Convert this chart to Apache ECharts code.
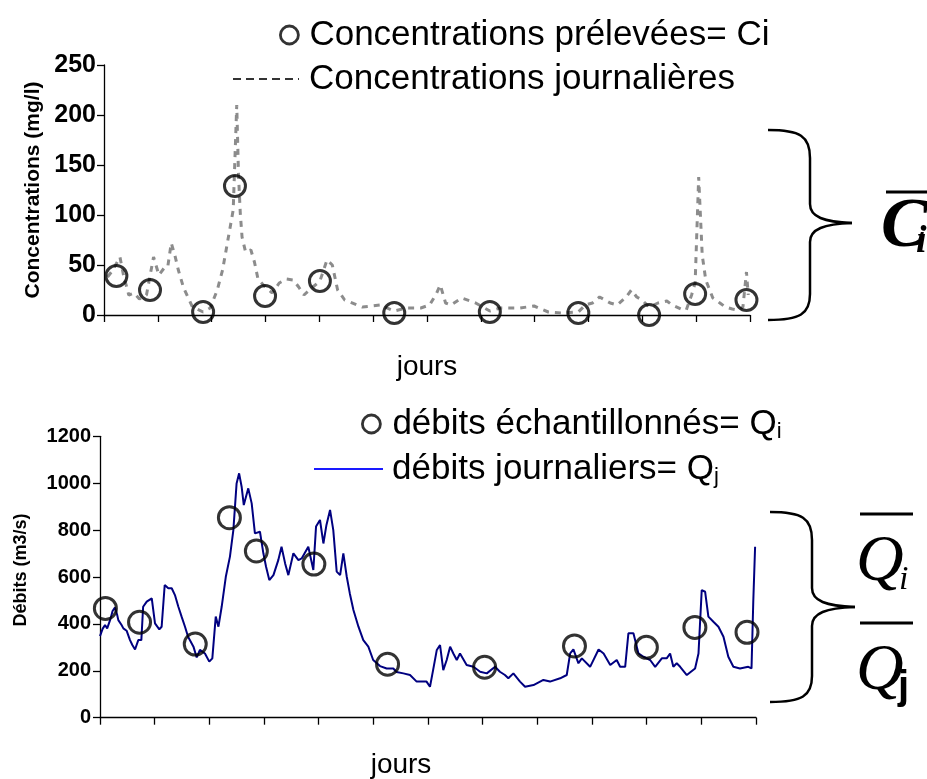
<!DOCTYPE html>
<html><head><meta charset="utf-8">
<script src="https://cdn.jsdelivr.net/npm/echarts@6/dist/echarts.min.js"></script>
<style>html,body{margin:0;padding:0;background:#fff}#c{width:927px;height:779px}</style>
</head><body><div id="c"></div>
<script>
// ---- Data (day of year, value) ----
const concDays   = [2,5,9,11,14,17,20,24,28,31,34,36,38,40,42,45,50,56,60,64,67,71,73,75,76,77,78,80,83,85,87,90,95,99,103,107,110,113,118,122,126,129,132,136,139,146,156,164,171,179,184,188,190,193,196,202,207,210,218,224,235,243,251,259,268,272,276,280,282,286,290,295,298,301,304,308,313,318,321,326,329,332,334,336,338,340,344,348,351,355,358,361,363,364];
const concValues = [38,45,58,40,20,22,16,20,58,40,47,48,72,60,45,27,8,3,7,25,45,85,105,210,140,102,78,63,65,53,36,30,22,32,36,35,28,20,28,34,55,50,25,15,13,8,10,4,7,7,10,22,30,12,10,17,14,12,4,7,7,9,3,2,3,10,12,18,16,12,10,18,25,18,15,8,12,14,10,6,5,20,32,138,60,35,17,12,8,6,5,8,43,20];
const concSampleDays   = [7,26,56,74,91,122,164,218,268,308,334,363];
const concSampleValues = [39,25,3,129,19,34,2,3,2,0,21,15];

const flowDays   = [0,1.5,2.8,4,5.6,7,8.3,9.5,10.2,12,13,14.8,16.7,18,19.5,21.3,23,24,26,28.8,30.6,33,34.3,36,38,39.9,41.7,43.6,45.4,47.3,49,52,53.8,55.6,58.4,60.8,62.5,64.4,65.9,67.7,70,72.3,74.2,76,77.4,78.8,80,82.5,84.4,86.2,89,90.9,92.4,94.2,96.5,99.2,101,103,104.8,107.6,110.4,112.2,115.9,118.7,120.2,122.4,124.3,126,128,129.8,131.7,133.6,135.4,137.3,139,141,143.8,146.5,149.3,152,155.8,159.5,163.2,165,168.8,172.5,176.2,181.7,183.6,185,187.4,189.2,191,192.9,194.8,196.6,198.5,200.3,204,207.8,211.5,215.2,219.8,222.5,225.3,227.2,230,233.7,236.5,241.2,246.7,250.4,256,259.7,261.6,263.4,266.2,268.1,272.7,277.4,280.2,283.9,287.5,289.4,292.2,294,296.8,299.6,302.4,306.1,308.9,312.6,315.3,317.2,319,320.9,322.8,326.5,331.1,333,334.8,336.7,338.5,341.3,344.1,346.9,349.6,352.4,356.1,360.7,362.5,363.5,364.5];
const flowValues = [348,380,395,381,416,455,470,440,416,395,381,371,331,310,291,331,331,473,495,509,402,377,388,566,552,552,523,473,431,388,345,303,257,289,274,239,253,431,388,473,601,687,800,999,1042,985,907,978,914,786,793,701,644,587,608,672,729,658,608,701,672,679,729,630,815,843,743,822,886,800,623,608,701,601,530,459,388,331,303,246,220,210,210,195,189,182,154,154,132,189,289,310,203,246,303,274,246,274,225,217,196,189,217,196,182,168,189,154,132,139,161,154,168,182,274,291,232,253,217,291,274,225,246,217,217,360,360,274,260,246,217,253,253,274,217,232,217,182,210,274,544,537,431,409,388,345,260,217,210,217,210,500,729];
const flowSampleDays   = [3,22,53,72,87,119,160,214,264,304,331,360];
const flowSampleValues = [466,407,314,853,711,655,228,215,306,300,385,364];

const concTicks = [0,50,100,150,200,250];
const flowTicks = [0,200,400,600,800,1000,1200];

const pairs = (xs, ys) => xs.map((d, i) => [d, ys[i]]);
const FONT = 'Liberation Sans';
const LEG_FS = 35, LEG_LH = 38;

const chart = echarts.init(document.getElementById('c'), null, {renderer: 'canvas'});

const xAxisBase = {
  type: 'value', min: 0, max: 365, interval: 365 / 12,
  axisLine: {show: true, onZero: false, lineStyle: {color: '#000', width: 1.3}},
  axisTick: {show: true, length: 7, lineStyle: {color: '#000', width: 1.3}},
  axisLabel: {show: false}, splitLine: {show: false},
  name: 'jours', nameLocation: 'middle',
  nameTextStyle: {fontFamily: FONT, fontSize: 28, color: '#000'}
};
const yAxisBase = {
  type: 'value',
  axisLine: {show: true, lineStyle: {color: '#000', width: 1.3}},
  axisTick: {show: true, length: 7, lineStyle: {color: '#000', width: 1.3}},
  splitLine: {show: false},
  nameLocation: 'middle', nameRotate: 90
};

const circleStyle = {color: 'rgba(0,0,0,0)', borderColor: '#000', borderWidth: 3};
const hiddenSymbol = {color: 'rgba(0,0,0,0)', borderColor: 'rgba(0,0,0,0)', borderWidth: 0};
const legendCircle = {color: 'rgba(0,0,0,0)', borderColor: '#000', borderWidth: 2.8};

// curly brace made of bezier curves and lines (decoration)
function brace(xl, xv, xt, yTop, yMid, yBot) {
  const st = {stroke: '#000', lineWidth: 2.5, fill: null};
  return [
    {type: 'bezierCurve', shape: {x1: xl, y1: yTop, cpx1: xl + 32, cpy1: yTop, cpx2: xv, cpy2: yTop + 6, x2: xv, y2: yTop + 28}, style: st},
    {type: 'line', shape: {x1: xv, y1: yTop + 28, x2: xv, y2: yMid - 19}, style: st},
    {type: 'bezierCurve', shape: {x1: xv, y1: yMid - 19, cpx1: xv, cpy1: yMid - 6, cpx2: xv + 14, cpy2: yMid - 1, x2: xt, y2: yMid}, style: st},
    {type: 'bezierCurve', shape: {x1: xt, y1: yMid, cpx1: xv + 14, cpy1: yMid + 1, cpx2: xv, cpy2: yMid + 6, x2: xv, y2: yMid + 19}, style: st},
    {type: 'line', shape: {x1: xv, y1: yMid + 19, x2: xv, y2: yBot - 26}, style: st},
    {type: 'bezierCurve', shape: {x1: xv, y1: yBot - 26, cpx1: xv, cpy1: yBot - 6, cpx2: xl + 32, cpy2: yBot, x2: xl, y2: yBot}, style: st}
  ];
}

const legText = (pad) => ({fontFamily: FONT, fontSize: LEG_FS, color: '#000', lineHeight: LEG_LH, padding: [0, 0, 0, pad],
  rich: {t: {fontFamily: FONT, fontSize: LEG_FS, lineHeight: LEG_LH, color: '#000'},
         s: {fontFamily: FONT, fontSize: 22, lineHeight: 12, verticalAlign: 'bottom', color: '#000'}}});

const option = {
  animation: false,
  backgroundColor: '#fff',
  grid: [
    {left: 104, top: 65, width: 646, height: 250, outerBoundsMode: 'none', containLabel: false},
    {left: 100, top: 436.3, width: 656, height: 281.4, outerBoundsMode: 'none', containLabel: false}
  ],
  xAxis: [
    Object.assign({}, xAxisBase, {gridIndex: 0, nameGap: 38}),
    Object.assign({}, xAxisBase, {gridIndex: 1, nameGap: 34,
      nameTextStyle: {fontFamily: FONT, fontSize: 28, color: '#000', padding: [0, 54, 0, 0]}})
  ],
  yAxis: [
    Object.assign({}, yAxisBase, {gridIndex: 0, min: concTicks[0], max: concTicks[concTicks.length-1], interval: 50,
      name: 'Concentrations (mg/l)', nameGap: 45,
      nameTextStyle: {fontFamily: FONT, fontSize: 21, fontWeight: 'bold', color: '#000'},
      axisLabel: {fontFamily: FONT, fontSize: 25, fontWeight: 'bold', color: '#000', margin: 8, formatter: v => String(v)}}),
    Object.assign({}, yAxisBase, {gridIndex: 1, min: flowTicks[0], max: flowTicks[flowTicks.length-1], interval: 200,
      name: 'Débits (m3/s)', nameGap: 70,
      nameTextStyle: {fontFamily: FONT, fontSize: 18, fontWeight: 'bold', color: '#000', padding: [0, 0, 0, 14]},
      axisLabel: {fontFamily: FONT, fontSize: 20, fontWeight: 'bold', color: '#000', margin: 9, formatter: v => String(v)}})
  ],
  legend: [
    {data: ['Concentrations prélevées= Ci'], left: 279, top: 16, padding: 0,
     itemWidth: 18, itemHeight: 18, itemStyle: legendCircle, textStyle: legText(6)},
    {data: ['Concentrations journalières'], left: 232, top: 60, padding: 0,
     itemWidth: 66, itemHeight: 14, itemStyle: hiddenSymbol, lineStyle: {color: '#333', width: 2, type: [8, 5]},
     textStyle: legText(5)},
    {data: ['débits échantillonnés= Qi'], left: 361, top: 405, padding: 0,
     itemWidth: 18, itemHeight: 18, itemStyle: legendCircle,
     formatter: () => '{t|débits échantillonnés= Q}{s|i}', textStyle: legText(7)},
    {data: ['débits journaliers= Qj'], left: 313, top: 450, padding: 0,
     itemWidth: 69, itemHeight: 14, itemStyle: hiddenSymbol, lineStyle: {color: '#1a1aff', width: 2},
     formatter: () => '{t|débits journaliers= Q}{s|j}', textStyle: legText(4)}
  ],
  series: [
    {name: 'Concentrations journalières', type: 'line', xAxisIndex: 0, yAxisIndex: 0,
     data: pairs(concDays, concValues), symbol: 'none', showSymbol: false,
     lineStyle: {color: '#8c8c8c', width: 3, type: [6, 6]}, itemStyle: {color: '#8c8c8c'}, z: 2},
    {name: 'Concentrations prélevées= Ci', type: 'scatter', xAxisIndex: 0, yAxisIndex: 0,
     data: pairs(concSampleDays, concSampleValues), symbol: 'circle', symbolSize: 21,
     itemStyle: circleStyle, z: 3},
    {name: 'débits journaliers= Qj', type: 'line', xAxisIndex: 1, yAxisIndex: 1,
     data: pairs(flowDays, flowValues), symbol: 'none', showSymbol: false,
     lineStyle: {color: '#000080', width: 2}, itemStyle: {color: '#000080'}, z: 2},
    {name: 'débits échantillonnés= Qi', type: 'scatter', xAxisIndex: 1, yAxisIndex: 1,
     data: pairs(flowSampleDays, flowSampleValues), symbol: 'circle', symbolSize: 22,
     itemStyle: circleStyle, z: 3}
  ],
  graphic: [].concat(
    brace(768, 810, 852, 130, 223, 320),
    brace(770, 812, 855, 512, 607, 702),
    [
      {type: 'line', shape: {x1: 886, y1: 192, x2: 927, y2: 192}, style: {stroke: '#000', lineWidth: 3}},
      {type: 'text', style: {text: 'C', x: 881, y: 228, font: 'italic bold 70px "Liberation Serif"', fill: '#000', textVerticalAlign: 'middle'}},
      {type: 'text', style: {text: 'i', x: 916, y: 242, font: 'italic bold 38px "Liberation Serif"', fill: '#000', textVerticalAlign: 'middle'}},
      {type: 'line', shape: {x1: 860, y1: 514, x2: 913, y2: 514}, style: {stroke: '#000', lineWidth: 3}},
      {type: 'text', style: {text: 'Q', x: 856, y: 563, font: 'italic 66px "Liberation Serif"', fill: '#000', textVerticalAlign: 'middle'}},
      {type: 'text', style: {text: 'i', x: 899, y: 580, font: 'italic 34px "Liberation Serif"', fill: '#000', textVerticalAlign: 'middle'}},
      {type: 'line', shape: {x1: 860, y1: 623, x2: 913, y2: 623}, style: {stroke: '#000', lineWidth: 3}},
      {type: 'text', style: {text: 'Q', x: 856, y: 672, font: 'italic 66px "Liberation Serif"', fill: '#000', textVerticalAlign: 'middle'}},
      {type: 'text', style: {text: 'j', x: 898, y: 688, font: 'bold 40px "Liberation Sans"', fill: '#000', textVerticalAlign: 'middle'}}
    ]
  )
};
chart.setOption(option);
</script></body></html>
